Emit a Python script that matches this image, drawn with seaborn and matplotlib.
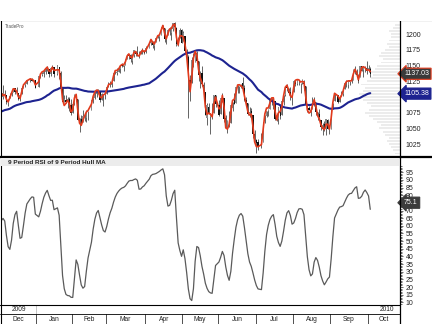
import numpy as np
import pandas as pd
import matplotlib
matplotlib.use("Agg")
import matplotlib.pyplot as plt
import matplotlib.transforms as mtransforms
from matplotlib.lines import Line2D
from matplotlib.patches import Rectangle
import seaborn as sns

sns.set_theme(style="white")
plt.rcParams['font.family'] = ['Liberation Sans', 'DejaVu Sans']

# ---------------- data ----------------
start_date = "2009-12-01"
end_date = "2010-10-04"
holidays = ["2009-12-25", "2010-01-01", "2010-01-18", "2010-02-15",
            "2010-04-02", "2010-05-31", "2010-07-05", "2010-09-06"]

# closes before the visible window (Sep 21 - Nov 30 2009), used only to warm up the indicators
prior_closes = [1064.7, 1071.7, 1060.9, 1050.8, 1044.4, 1063.0, 1060.6, 1057.1,
                1029.9, 1025.2, 1040.5, 1054.7, 1057.6, 1065.5, 1071.5, 1076.2, 1073.2, 1092.0,
                1096.6, 1087.7, 1097.9, 1091.1, 1081.4, 1092.9, 1079.6, 1067.0, 1063.4, 1042.6,
                1066.1, 1036.2,
                1042.9, 1045.4, 1046.5, 1066.6, 1069.3, 1093.1, 1093.0, 1098.5, 1087.2, 1093.5,
                1109.3, 1110.3, 1109.8, 1094.9, 1091.4, 1106.2, 1105.7, 1110.6, 1091.5, 1095.6]

opens = [1098.9, 1109.0, 1110.6, 1100.4, 1105.5, 1103.0, 1091.1, 1098.7, 1104.0, 1107.8, 1114.1,
         1108.6, 1106.4, 1097.9, 1105.3, 1114.5, 1118.8, 1121.1, 1127.5, 1128.6, 1125.5, 1126.6,
         1116.6, 1132.7, 1135.7, 1136.3, 1140.5, 1146.0, 1143.8, 1137.3, 1145.7, 1147.7, 1136.0,
         1147.5, 1138.7, 1115.5, 1092.4, 1095.8, 1091.9, 1096.9, 1087.6,
         1073.9, 1090.1, 1100.7, 1097.3, 1064.1, 1065.5, 1060.1, 1069.7, 1067.1, 1076.0, 1079.1,
         1096.1, 1099.0, 1105.5, 1110.0, 1107.5, 1095.9, 1101.2, 1103.1,
         1105.4, 1117.0, 1119.4, 1119.1, 1125.1, 1138.4, 1137.6, 1140.2, 1144.0, 1151.7, 1148.5,
         1150.8, 1159.9, 1166.1, 1166.7, 1157.3, 1166.5, 1172.7, 1170.0, 1167.6, 1167.7, 1173.8,
         1171.8,
         1171.2, 1178.7, 1186.0, 1188.2, 1181.8, 1187.5, 1194.9, 1195.9, 1198.7, 1210.8, 1210.2,
         1192.1, 1199.0, 1207.2, 1202.5, 1207.9, 1217.1, 1209.9, 1184.6, 1193.3, 1206.8,
         1188.6, 1197.5, 1169.2, 1164.4, 1127.0, 1122.3, 1156.4, 1155.4, 1170.0, 1157.2, 1136.5,
         1138.8, 1119.6, 1107.3, 1067.3, 1084.8, 1067.4, 1075.5, 1074.3, 1102.6,
         1087.3, 1073.0, 1098.8, 1098.4, 1065.8, 1050.8, 1062.8, 1058.8, 1082.7, 1095.0, 1091.2,
         1114.0, 1116.0, 1116.2, 1122.8, 1113.9, 1095.6, 1090.9, 1075.1, 1077.5, 1071.1, 1040.6,
         1031.1, 1027.7, 1028.1, 1028.5, 1062.9, 1070.5, 1077.2, 1080.6, 1095.6, 1094.5, 1093.9,
         1066.9, 1064.5, 1086.7, 1072.1, 1092.2, 1102.9, 1117.4, 1112.8, 1108.1, 1098.4,
         1107.5, 1125.3, 1121.1, 1125.8, 1122.1, 1122.8, 1122.9, 1116.9, 1081.5, 1082.2, 1077.5,
         1081.2, 1092.1, 1092.4, 1075.6, 1073.4, 1063.2, 1049.0, 1056.3, 1049.3, 1062.9, 1046.9,
         1049.7, 1080.7, 1093.6, 1102.6, 1092.4, 1101.2, 1104.6, 1113.4, 1121.2, 1119.4, 1123.9,
         1126.4, 1126.6, 1142.8, 1139.5, 1131.1, 1131.7, 1148.6, 1142.3, 1146.8, 1146.0,
         1143.5, 1145.0]
highs = [1112.3, 1117.0, 1117.3, 1119.1, 1110.7, 1103.0, 1097.0, 1106.3, 1108.5, 1114.9, 1114.1,
         1116.2, 1106.4, 1103.7, 1117.7, 1120.3, 1121.6, 1126.5, 1130.4, 1130.4, 1126.4, 1127.6,
         1133.9, 1136.6, 1139.2, 1142.5, 1145.4, 1149.7, 1143.8, 1148.4, 1150.4, 1147.8, 1150.5,
         1147.5, 1141.6, 1115.5, 1103.0, 1103.7, 1099.5, 1100.2, 1096.5,
         1089.4, 1104.7, 1102.7, 1097.3, 1067.1, 1071.2, 1079.3, 1073.7, 1080.0, 1077.8, 1095.0,
         1100.0, 1108.2, 1112.4, 1112.3, 1108.6, 1106.4, 1103.5, 1107.2,
         1116.1, 1123.5, 1125.6, 1123.7, 1139.4, 1141.1, 1145.4, 1148.3, 1150.2, 1153.4, 1151.0,
         1160.3, 1169.2, 1167.8, 1169.2, 1167.8, 1174.7, 1173.0, 1180.7, 1173.9, 1174.9, 1177.8,
         1174.6,
         1181.4, 1187.7, 1191.8, 1189.6, 1188.5, 1194.7, 1199.2, 1199.0, 1210.7, 1213.9, 1210.2,
         1197.9, 1208.6, 1211.0, 1210.3, 1217.3, 1219.8, 1211.4, 1195.1, 1209.4, 1208.0,
         1205.1, 1197.5, 1176.0, 1167.6, 1135.1, 1163.9, 1170.5, 1172.9, 1173.6, 1157.2, 1141.9,
         1148.7, 1124.3, 1107.3, 1090.2, 1090.0, 1074.8, 1090.8, 1103.5, 1102.6,
         1094.8, 1098.6, 1105.7, 1098.4, 1071.4, 1063.2, 1077.7, 1087.9, 1092.0, 1105.9, 1115.6,
         1118.7, 1117.7, 1121.0, 1131.2, 1118.5, 1099.6, 1090.9, 1083.6, 1082.6, 1071.1, 1048.1,
         1033.6, 1032.9, 1042.5, 1060.9, 1071.3, 1078.2, 1080.8, 1099.1, 1099.1, 1098.7, 1093.9,
         1074.7, 1083.9, 1089.0, 1097.5, 1103.7, 1115.2, 1121.0, 1114.7, 1115.9, 1106.4,
         1127.3, 1125.4, 1128.8, 1126.6, 1123.1, 1129.2, 1127.2, 1116.9, 1086.7, 1086.3, 1082.6,
         1100.1, 1099.8, 1092.4, 1075.6, 1081.6, 1063.2, 1059.4, 1061.4, 1065.2, 1064.4, 1055.1,
         1081.3, 1090.1, 1105.1, 1102.6, 1103.3, 1110.3, 1110.9, 1123.9, 1127.4, 1126.5, 1125.4,
         1131.5, 1144.9, 1148.6, 1144.4, 1136.8, 1148.9, 1149.9, 1150.0, 1148.6, 1157.2,
         1150.3, 1148.2]
lows = [1098.9, 1105.1, 1098.7, 1096.5, 1100.8, 1088.6, 1085.9, 1098.7, 1101.3, 1107.8, 1105.4,
        1108.0, 1095.0, 1093.7, 1105.3, 1114.5, 1116.0, 1121.1, 1123.5, 1126.1, 1121.9, 1114.8,
        1116.6, 1129.7, 1133.9, 1131.3, 1136.2, 1142.0, 1131.8, 1133.2, 1143.8, 1131.4, 1135.2,
        1129.3, 1114.8, 1090.2, 1092.4, 1089.9, 1083.1, 1078.5, 1071.6,
        1073.9, 1088.0, 1094.0, 1062.8, 1044.5, 1056.5, 1060.1, 1062.0, 1060.1, 1063.0, 1079.1,
        1091.1, 1097.5, 1100.8, 1105.4, 1092.2, 1095.9, 1086.0, 1097.6,
        1105.4, 1116.5, 1116.6, 1116.7, 1125.1, 1136.8, 1134.9, 1140.1, 1139.0, 1147.0, 1141.5,
        1150.4, 1159.9, 1161.2, 1155.3, 1152.9, 1163.8, 1166.0, 1165.1, 1161.5, 1167.7, 1168.5,
        1169.2,
        1170.7, 1178.7, 1182.8, 1177.3, 1175.1, 1187.2, 1194.7, 1188.8, 1198.7, 1208.5, 1186.8,
        1183.7, 1199.0, 1198.9, 1190.2, 1205.1, 1211.1, 1181.6, 1181.8, 1193.3, 1186.3,
        1188.6, 1168.1, 1158.2, 1065.8, 1094.2, 1122.3, 1147.7, 1155.4, 1156.1, 1126.1, 1115.0,
        1117.2, 1100.7, 1071.6, 1055.9, 1072.7, 1040.8, 1065.6, 1074.3, 1084.8,
        1069.9, 1072.2, 1091.8, 1060.5, 1049.9, 1042.2, 1052.3, 1058.8, 1077.1, 1089.0, 1091.2,
        1107.1, 1105.9, 1113.9, 1108.2, 1094.2, 1085.3, 1071.6, 1067.9, 1071.5, 1035.2, 1028.3,
        1010.9, 1015.9, 1018.4, 1028.5, 1058.2, 1068.1, 1070.4, 1080.6, 1087.7, 1080.5, 1063.3,
        1061.1, 1056.9, 1065.3, 1072.1, 1087.9, 1101.8, 1109.8, 1103.1, 1094.8, 1088.0,
        1107.5, 1116.8, 1119.5, 1118.9, 1107.0, 1120.9, 1111.0, 1089.0, 1076.7, 1079.0, 1069.6,
        1081.2, 1085.8, 1070.7, 1063.9, 1067.1, 1046.7, 1039.8, 1045.4, 1039.7, 1048.8, 1040.9,
        1049.7, 1080.4, 1093.6, 1091.2, 1092.4, 1101.2, 1101.7, 1113.4, 1115.6, 1114.6, 1118.9,
        1122.4, 1126.6, 1136.2, 1131.6, 1122.8, 1131.7, 1142.0, 1132.1, 1140.3, 1136.1,
        1139.4, 1131.9]
closes = [1108.9, 1109.2, 1099.9, 1106.0, 1103.3, 1091.9, 1096.0, 1102.4, 1106.4, 1114.1, 1107.9,
          1109.2, 1096.1, 1102.5, 1114.1, 1118.0, 1120.6, 1126.5, 1127.8, 1126.2, 1126.4, 1115.1,
          1133.0, 1136.5, 1137.1, 1141.7, 1145.0, 1147.0, 1136.2, 1145.7, 1148.5, 1136.0, 1150.2,
          1138.0, 1116.5, 1091.8, 1096.8, 1092.2, 1097.5, 1084.5, 1073.9,
          1089.2, 1103.3, 1097.3, 1063.1, 1066.2, 1056.7, 1070.5, 1068.1, 1078.5, 1075.5, 1094.9,
          1099.5, 1106.8, 1109.2, 1108.0, 1094.6, 1105.2, 1102.9, 1104.5,
          1115.7, 1118.3, 1118.8, 1123.0, 1138.7, 1138.5, 1140.5, 1145.6, 1150.2, 1150.0, 1150.5,
          1159.5, 1166.2, 1165.8, 1159.9, 1165.8, 1174.2, 1167.7, 1165.7, 1166.6, 1173.2, 1173.3,
          1169.4,
          1178.1, 1187.4, 1189.4, 1182.5, 1186.4, 1194.4, 1196.5, 1197.3, 1210.7, 1211.7, 1192.1,
          1197.5, 1207.2, 1205.9, 1208.7, 1217.3, 1212.1, 1183.7, 1191.4, 1206.8, 1186.7,
          1202.3, 1173.6, 1165.9, 1128.2, 1110.9, 1159.7, 1155.8, 1171.7, 1157.4, 1135.7, 1136.9,
          1120.8, 1115.1, 1071.6, 1087.7, 1073.7, 1074.0, 1068.0, 1103.1, 1089.4,
          1070.7, 1098.4, 1102.8, 1064.9, 1050.5, 1062.0, 1055.7, 1086.8, 1091.6, 1089.6, 1115.2,
          1114.6, 1116.0, 1117.5, 1113.2, 1095.3, 1092.0, 1073.7, 1076.8, 1074.6, 1041.2, 1030.7,
          1027.4, 1022.6, 1028.1, 1060.3, 1070.3, 1078.0, 1078.8, 1095.3, 1095.2, 1096.5, 1064.9,
          1071.3, 1083.5, 1069.6, 1093.7, 1102.7, 1115.0, 1113.8, 1106.1, 1101.5, 1101.6,
          1125.9, 1120.5, 1127.2, 1125.8, 1121.6, 1127.8, 1121.1, 1089.5, 1083.6, 1079.3, 1079.4,
          1092.5, 1094.2, 1075.6, 1071.7, 1067.4, 1051.9, 1055.3, 1047.2, 1064.6, 1048.9, 1049.3,
          1080.3, 1090.1, 1104.5, 1091.8, 1098.9, 1104.2, 1109.6, 1121.9, 1121.1, 1125.1, 1124.7,
          1125.6, 1142.7, 1139.8, 1134.3, 1124.8, 1148.7, 1142.2, 1147.7, 1144.7, 1141.2,
          1146.2, 1137.0]

# price-distribution bars at the right edge (price level, relative length)
profile_prices = list(range(1010, 1220, 5))
profile_lengths = [4, 6, 8, 10, 12, 10, 14, 16, 20, 18, 22, 26, 30, 34, 30, 28, 32, 36, 38, 40,
                   36, 34, 38, 32, 28, 26, 30, 24, 22, 18, 16, 20, 18, 14, 10, 12, 10, 8, 8, 10, 6, 4]

price_ticks = [1025, 1050, 1075, 1100, 1125, 1150, 1175, 1200]
price_tick_labels = ["1025", "1050", "1075", "", "1125", "1150", "1175", "1200"]
rsi_ticks = list(range(10, 100, 5))
rsi_tick_labels = [str(t) if t != 75 else "" for t in rsi_ticks]
month_labels = ["Dec", "Jan", "Feb", "Mar", "Apr", "May", "Jun", "Jul", "Aug", "Sep", "Oct"]
year_labels = ["2009", "2010"]
last_close, last_close_text = 1137.03, "1137.03"
last_sma, last_sma_text = 1105.38, "1105.38"
last_rsi, last_rsi_text = 75.1, "75.1"

# ---------------- indicators ----------------
def wma(a, n):
    w = np.arange(1, n + 1, dtype=float)
    out = np.full(len(a), np.nan)
    for i in range(n - 1, len(a)):
        out[i] = np.dot(a[i - n + 1:i + 1], w) / w.sum()
    return out

def hull(a, n):
    diff = 2 * wma(a, n // 2) - wma(a, n)
    return wma(diff, int(np.sqrt(n)))

def rsi(a, n):
    d = pd.Series(a).diff()
    up = d.clip(lower=0)
    dn = -d.clip(upper=0)
    au = up.ewm(alpha=1 / n, adjust=False).mean()
    ad = dn.ewm(alpha=1 / n, adjust=False).mean()
    return (100 * au / (au + ad)).to_numpy()

allc = np.array(prior_closes + closes, dtype=float)
N = len(closes)
hma4 = hull(allc, 4)[-N:]
sma50 = pd.Series(allc).rolling(50).mean().to_numpy()[-N:]
rsi9 = rsi(hull(allc, 9), 9)[-N:]

days = pd.bdate_range(start_date, end_date)
is_trading = ~days.isin(pd.to_datetime(holidays))
x = np.arange(len(days))[is_trading]
o, h, l, c = map(np.array, (opens, highs, lows, closes))

# ---------------- figure ----------------
W, H = 432, 324
fig = plt.figure(figsize=(W / 100, H / 100), dpi=100)
fig.patch.set_facecolor("white")

def rect(x0, y0, x1, y1):
    return [x0 / W, 1 - y1 / H, (x1 - x0) / W, (y1 - y0) / H]

XL = (1.8, 236.2)
main_box = rect(1, 20.5, 399.5, 156.5)
rsi_box = rect(1, 166, 399.5, 304.5)

# price distribution (behind)
axp = fig.add_axes(main_box)
axp.barh(profile_prices, profile_lengths, height=3.0, color="#ececec", linewidth=0)
axp.set_xlim(398, 0)
axp.set_ylim(1005.3, 1221.8)
axp.axis("off")

ax = fig.add_axes(main_box)
ax.patch.set_visible(False)
up = c >= o
ax.vlines(x, l, h, color="#4a4a4a", lw=0.6, zorder=2)
ax.bar(x, np.abs(c - o), bottom=np.minimum(o, c), width=0.7,
       color=np.where(up, "#8a8a8a", "#111111"), linewidth=0, zorder=3)
sns.lineplot(x=x, y=sma50, ax=ax, color="#1d2390", lw=1.5, sort=False, estimator=None, zorder=4)
sns.lineplot(x=x, y=hma4, ax=ax, color="#e23a1c", lw=1.2, sort=False, estimator=None, zorder=5)
ax.set_xlim(*XL)
ax.set_ylim(1005.3, 1221.8)
ax.set_xticks([])
ax.yaxis.tick_right()
ax.set_yticks(price_ticks)
ax.set_yticklabels(price_tick_labels)
ax.tick_params(axis="y", length=0, pad=4, labelsize=5, labelcolor="#222222")
for s in ax.spines.values():
    s.set_visible(False)
ax.set_xlabel("")
ax.set_ylabel("")
ax.text(4 / 398.5, 0.975, "TradePro", transform=ax.transAxes, fontsize=3.3, color="#555555",
        va="top", ha="left")

# value tags
tr_main = mtransforms.blended_transform_factory(fig.transFigure, ax.transData)
ax.text(404 / W, last_close, last_close_text, transform=tr_main, fontsize=5, color="white",
        va="center", ha="left", zorder=10, clip_on=False,
        bbox=dict(boxstyle="larrow,pad=0.3", fc="#3a3a3a", ec="#e23a1c", lw=0.8))
ax.text(404 / W, last_sma, last_sma_text, transform=tr_main, fontsize=5, color="white",
        va="center", ha="left", zorder=10, clip_on=False,
        bbox=dict(boxstyle="larrow,pad=0.3", fc="#1d2390", ec="#1d2390", lw=0.8))

# RSI panel
ax2 = fig.add_axes(rsi_box)
sns.lineplot(x=x, y=rsi9, ax=ax2, color="#5a5a5a", lw=0.9, sort=False, estimator=None)
ax2.set_xlim(*XL)
ax2.set_ylim(8.56, 99.1)
ax2.set_xticks([])
ax2.yaxis.tick_right()
ax2.set_yticks(rsi_ticks)
ax2.set_yticklabels(rsi_tick_labels)
ax2.set_yticks(np.arange(9, 100, 1), minor=True)
ax2.tick_params(axis="y", which="major", length=2, width=0.5, pad=2.5, labelsize=5,
                labelcolor="#222222", color="#333333")
ax2.tick_params(axis="y", which="minor", length=1.2, width=0.5, color="#333333", right=True)
for s in ax2.spines.values():
    s.set_visible(False)
ax2.set_xlabel("")
ax2.set_ylabel("")
tr_rsi = mtransforms.blended_transform_factory(fig.transFigure, ax2.transData)
ax2.text(404 / W, last_rsi, last_rsi_text, transform=tr_rsi, fontsize=5, color="white",
         va="center", ha="left", zorder=10, clip_on=False,
         bbox=dict(boxstyle="larrow,pad=0.3", fc="#3c3c3c", ec="#3c3c3c", lw=0.8))

# bottom date axis
axd = fig.add_axes(rect(1, 304.5, 399.5, 323.5))
axd.set_xlim(*XL)
axd.set_ylim(0, 2)
axd.axis("off")
month_idx = [0] + [i for i in range(1, len(days)) if days[i].month != days[i - 1].month]
bounds = [m - 0.5 for m in month_idx[1:]]
for b in bounds:
    axd.plot([b, b], [0, 0.95], color="#333333", lw=0.6)
edges = [XL[0]] + bounds + [XL[1]]
for lab, a0, a1 in zip(month_labels, edges[:-1], edges[1:]):
    axd.text((a0 + a1) / 2, 0.47, lab, ha="center", va="center", fontsize=4.8, color="#222222")
axd.plot([bounds[0], bounds[0]], [1.0, 2], color="#bbbbbb", lw=0.6)
axd.text((XL[0] + bounds[0]) / 2, 1.5, year_labels[0], ha="center", va="center", fontsize=4.8,
         color="#222222")
axd.text(XL[1] - 3, 1.5, year_labels[1], ha="right", va="center", fontsize=4.8, color="#222222")

# ---------------- frame, header strips ----------------
def hline(y, x0, x1, lw, color="black"):
    fig.add_artist(Line2D([x0 / W, x1 / W], [1 - y / H, 1 - y / H], color=color, lw=lw))

def vline(xp, y0, y1, lw, color="black"):
    fig.add_artist(Line2D([xp / W, xp / W], [1 - y0 / H, 1 - y1 / H], color=color, lw=lw))

fig.add_artist(Rectangle((0, 1 - 20.5 / H), 1, 20.5 / H, transform=fig.transFigure,
                         fc="white", ec="none", zorder=5))
fig.add_artist(Rectangle((1 / W, 1 - 166 / H), 398 / W, 8.5 / H, transform=fig.transFigure,
                         fc="#ececec", ec="none", zorder=5))

hline(11, 0, 432, 1.2)
hline(20.3, 0, 432, 0.8)
hline(157, 0, 432, 1.6)
hline(304.5, 0, 400, 0.8)
hline(313.7, 0, 400, 0.6)
hline(323.5, 0, 432, 0.6)
vline(0.5, 11, 324, 0.8)
vline(400, 11, 324, 0.9)

fig.text(5 / W, 1 - 5 / H, "S&P 500 (S500)", fontsize=5, weight="bold", va="center", ha="left")
fig.text(216 / W, 1 - 5 / H, "WWW.UPDATA.CO.UK", fontsize=5, weight="bold", va="center",
         ha="center")
fig.text(409 / W, 1 - 5 / H, "◂", fontsize=4.5, color="#d04020", va="center", ha="right",
         family=["DejaVu Sans"])
fig.text(409.5 / W, 1 - 5 / H, "updata", fontsize=4.3, color="#3a64b0", va="center", ha="left")
fig.text(8 / W, 1 - 15.7 / H, "Daily Candlestick  4 Period Hull MA & 50 Period Simple MA",
         fontsize=4.6, weight="bold", va="center", ha="left")
fig.text(398 / W, 1 - 15.7 / H, "4 Oct 2010  S500", fontsize=4.6, weight="bold", va="center",
         ha="right")
fig.text(402.5 / W, 1 - 15.7 / H, "Ar", fontsize=4.6, weight="bold", va="center", ha="left")
fig.text(8 / W, 1 - 162 / H, "9 Period RSI of 9 Period Hull MA", fontsize=4.6, weight="bold",
         va="center", ha="left", zorder=6)

fig.savefig("out.png", dpi=100, facecolor="white")
